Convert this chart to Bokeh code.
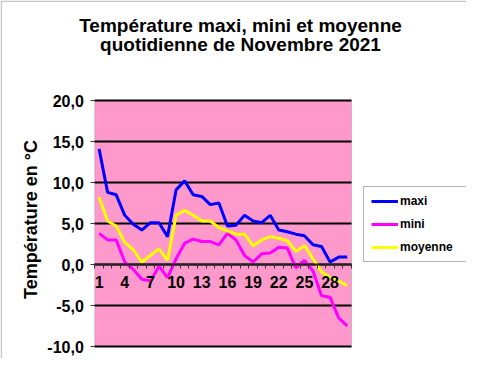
import math
from bokeh.plotting import figure
from bokeh.models import (Range1d, LinearAxis, FixedTicker, CustomJSTickFormatter, Grid,
                          Label, Legend, LegendItem, ColumnDataSource, BoxAnnotation)
from bokeh.embed import file_html
from bokeh.resources import INLINE

# ---- data ----
days = [1, 2, 3, 4, 5, 6, 7, 8, 9, 10, 11, 12, 13, 14, 15,
        16, 17, 18, 19, 20, 21, 22, 23, 24, 25, 26, 27, 28, 29, 30]
maxi = [14.1, 8.8, 8.5, 6.0, 4.9, 4.2, 5.1, 5.1, 3.4, 9.1, 10.2, 8.5, 8.3, 7.3, 7.5,
        4.7, 4.8, 6.0, 5.3, 5.1, 6.0, 4.2, 4.0, 3.7, 3.5, 2.4, 2.2, 0.3, 0.9, 0.9]
mini = [3.8, 3.0, 3.0, 0.3, -0.6, -1.8, -2.0, -0.2, -1.6, 0.7, 2.6, 3.1, 2.8, 2.8, 2.4,
        3.8, 3.0, 1.1, 0.3, 1.3, 1.4, 2.1, 2.0, -0.4, 0.5, -0.8, -3.8, -4.0, -6.5, -7.5]
moyenne = [8.2, 5.3, 4.7, 2.7, 1.8, 0.3, 1.1, 1.9, 0.5, 6.0, 6.6, 6.0, 5.3, 5.3, 4.5,
           4.1, 3.7, 3.7, 2.3, 3.0, 3.4, 3.2, 2.9, 1.6, 2.3, 0.7, -0.9, -1.6, -2.0, -2.6]
x_tick_days = [1, 4, 7, 10, 13, 16, 19, 22, 25, 28]
y_ticks = [-10, -5, 0, 5, 10, 15, 20]
y_min, y_max = -10, 20
title_lines = ["Température maxi, mini et moyenne", "quotidienne de Novembre 2021"]
y_title = "Température en °C"
series_names = ["maxi", "mini", "moyenne"]
series_colors = ["#0000FF", "#FF00FF", "#FFFF00"]

FONT = "Liberation Sans"

# ---- layout (pixels) ----
W, H = 466, 358
PL, PR, PT, PB = 94.3, 351.0, 100.0, 346.0   # pink plot area edges
x_lo, x_hi = days[0] - 0.5, days[-1] + 0.5
xs = (x_hi - x_lo) / (PR - PL)
ys = (y_max - y_min) / (PB - PT)
xr = Range1d(x_lo - PL * xs, x_hi + (W - PR) * xs)
yr = Range1d(y_min - (H - PB) * ys, y_max + PT * ys)

p = figure(width=W, height=H, output_backend="svg", toolbar_location=None,
           x_axis_type=None, y_axis_type=None, x_range=xr, y_range=yr,
           min_border=0)
p.background_fill_color = "white"
p.border_fill_color = "white"
p.outline_line_color = None

# chart outer border (left / top edges visible inside the canvas)
p.add_layout(BoxAnnotation(left=xr.start + 0.8 * xs, right=xr.end + 20 * xs,
                           bottom=yr.start - 20 * ys, top=yr.end - 0.8 * ys,
                           fill_alpha=0, line_color="#404040", line_width=1.5,
                           level="image"))

# pink plot area
p.add_layout(BoxAnnotation(left=x_lo, right=x_hi, bottom=y_min, top=y_max,
                           fill_color="#FF99CC", fill_alpha=1,
                           line_color="#707070", line_width=1, level="image"))

# horizontal grid lines
grid = Grid(dimension=1, ticker=FixedTicker(ticks=y_ticks),
            grid_line_color="black", grid_line_width=2)
try:
    grid.cross_bounds = (x_lo, x_hi)
except Exception:
    pass
p.add_layout(grid)

# y axis on the left edge of the plot area
yaxis = LinearAxis(fixed_location=x_lo, bounds=(y_min, y_max),
                   ticker=FixedTicker(ticks=y_ticks),
                   formatter=CustomJSTickFormatter(code="return tick.toFixed(1).replace('.', ',')"))
yaxis.major_label_text_font = FONT
yaxis.major_label_text_font_style = "bold"
yaxis.major_label_text_font_size = "16px"
yaxis.major_label_text_color = "black"
yaxis.major_tick_out = 4
yaxis.major_tick_in = 0
yaxis.major_tick_line_color = "#333333"
yaxis.minor_tick_line_color = None
yaxis.axis_line_color = None
yaxis.major_label_standoff = 7
p.add_layout(yaxis, "left")

# x axis crossing at 0
boundaries = [d - 0.5 for d in days] + [days[-1] + 0.5]
xaxis = LinearAxis(fixed_location=0, bounds=(x_lo, x_hi),
                   ticker=FixedTicker(ticks=x_tick_days, minor_ticks=boundaries))
xaxis.axis_line_color = "#222222"
xaxis.axis_line_width = 2
xaxis.major_tick_line_color = None
xaxis.major_tick_out = 4
xaxis.major_tick_in = 0
xaxis.minor_tick_out = 4
xaxis.minor_tick_in = 0
xaxis.minor_tick_line_color = "#333333"
xaxis.major_label_text_font = FONT
xaxis.major_label_text_font_style = "bold"
xaxis.major_label_text_font_size = "16px"
xaxis.major_label_text_color = "black"
xaxis.major_label_standoff = 7
p.add_layout(xaxis, "below")

src = ColumnDataSource(dict(day=days, maxi=maxi, mini=mini, moyenne=moyenne))
renderers = []
for name, color in zip(series_names, series_colors):
    r = p.line("day", name, source=src, line_color=color, line_width=3)
    renderers.append(r)

legend = Legend(items=[LegendItem(label=n, renderers=[r]) for n, r in zip(series_names, renderers)],
                location=(363, H - 262))
legend.label_text_font = FONT
legend.label_text_font_style = "bold"
legend.label_text_font_size = "12px"
legend.label_text_color = "black"
legend.glyph_width = 27
legend.glyph_height = 14
legend.label_height = 14
legend.label_width = 59
legend.label_standoff = 2
legend.spacing = 9
legend.padding = 7
legend.margin = 0
legend.border_line_color = "#666666"
legend.border_line_width = 1
legend.background_fill_color = "white"
legend.background_fill_alpha = 1
p.add_layout(legend, "center")

for txt, yy in zip(title_lines, [H - 24.7, H - 44.0]):
    p.add_layout(Label(x=240, y=yy, x_units="screen", y_units="screen", text=txt,
                       text_align="center", text_baseline="middle",
                       text_font=FONT, text_font_style="bold", text_font_size="19px",
                       text_color="black"))

p.add_layout(Label(x=30.7, y=H - 219, x_units="screen", y_units="screen", text=y_title,
                   angle=math.pi / 2, text_align="center", text_baseline="middle",
                   text_font=FONT, text_font_style="bold", text_font_size="18px",
                   text_color="black"))

open("out.html", "w").write(file_html(p, INLINE))
